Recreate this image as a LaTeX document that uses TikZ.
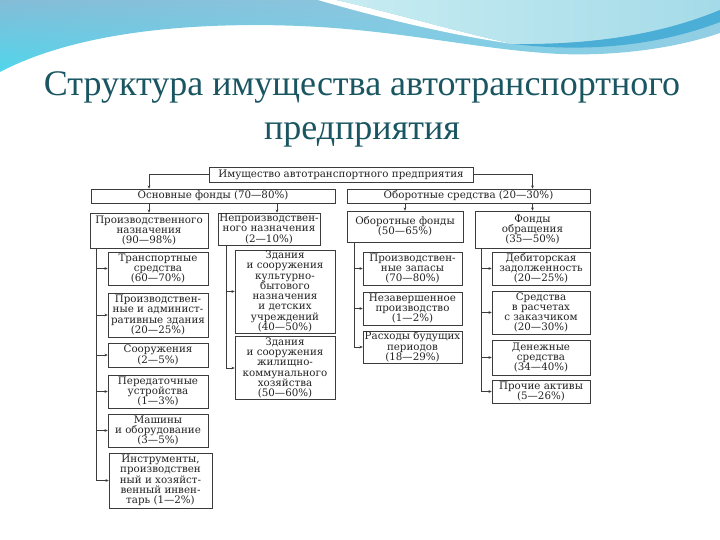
\documentclass[tikz,border=0pt]{standalone}
\usepackage{fontspec}
\setmainfont{Liberation Serif}
\newfontfamily\boxfont{DejaVu Serif}
\usetikzlibrary{arrows.meta,shadings}
\definecolor{titleteal}{RGB}{26,86,98}
\definecolor{wavesky}{RGB}{132,188,215}
\definecolor{wavepale}{RGB}{146,206,228}
\definecolor{waveaqua}{RGB}{80,214,236}
\definecolor{wavelight}{RGB}{200,236,242}
\definecolor{waveturq}{RGB}{164,219,232}
\definecolor{wavedeep}{RGB}{74,174,214}
\definecolor{boxline}{RGB}{60,60,60}
\definecolor{boxtext}{RGB}{35,35,35}
\tikzset{
  box/.style={draw=boxline,line width=0.6pt,fill=white,align=center,inner sep=1pt,
    text=boxtext,font=\boxfont\fontsize{10.3}{10.3}\selectfont},
  conn/.style={draw=boxline,line width=0.6pt,-{Stealth[length=3.2pt,width=2.8pt]}},
  headline/.style={align=center,text=titleteal,font=\fontsize{36}{44}\selectfont}
}
% name, x, y, width, height, text
\newcommand{\itembox}[6]{%
  \node[box,minimum width=#4pt,minimum height=#5pt] (#1) at (#2,#3) {#6};
}

\begin{document}
\begin{tikzpicture}[x=1pt,y=-1pt]
\useasboundingbox (0,0) rectangle (720,540);
% waves at the top
\shade[upper left=wavesky,upper right=wavepale,lower left=waveaqua,lower right=wavepale]
  (0,0) -- (720,0) -- (720,33) .. controls (670,50) and (610,56) .. (560,54)
  .. controls (480,50) and (400,30) .. (300,26)
  .. controls (200,22) and (80,30) .. (0,72) -- cycle;
\fill[white]
  (318,0) .. controls (380,18) and (450,35) .. (513,44)
  .. controls (450,30) and (390,12) .. (336,0) -- cycle;
\shade[left color=wavelight,right color=waveturq]
  (336,0) -- (720,0) -- (720,10) .. controls (660,35) and (590,45) .. (513,44)
  .. controls (450,30) and (390,12) .. (336,0) -- cycle;
\fill[wavedeep]
  (513,44) .. controls (590,45) and (660,35) .. (720,10) -- (720,22)
  .. controls (660,45) and (590,53) .. (513,44) -- cycle;

\node[headline] (title) at (362,109) {Структура имущества автотранспортного\\предприятия};

% levels 0 and 1
\itembox{top}{341}{174.5}{264}{15}{Имущество автотранспортного предприятия}
\itembox{osn}{213}{196}{244}{14}{Основные фонды (70—80\%)}
\itembox{obs}{468.5}{196}{243}{14}{Оборотные средства (20—30\%)}

% level 2
\itembox{prodn}{149}{230.5}{118}{35}{Производственного\\назначения\\(90—98\%)}
\itembox{neprod}{269}{229}{102}{32}{Непроизводствен-\\ного назначения\\(2—10\%)}
\itembox{obfond}{405}{226.5}{116}{31}{Оборотные фонды\\(50—65\%)}
\itembox{fobr}{532.5}{229.5}{115}{37}{Фонды\\обращения\\(35—50\%)}

% level 3, column 1
\itembox{transp}{158}{268.5}{100}{33}{Транспортные\\средства\\(60—70\%)}
\itembox{zdan}{158}{315}{100}{44}{Производствен-\\ные и админист-\\ративные здания\\(20—25\%)}
\itembox{soor}{158}{355}{100}{24}{Сооружения\\(2—5\%)}
\itembox{pered}{158}{391.5}{100}{33}{Передаточные\\устройства\\(1—3\%)}
\itembox{mash}{158}{430.5}{100}{33}{Машины\\и оборудование\\(3—5\%)}
\itembox{instr}{160.5}{480.5}{103}{55}{Инструменты,\\производствен\\ный и хозяйст-\\венный инвен-\\тарь (1—2\%)}

% column 2
\itembox{kult}{285}{291.5}{100}{83}{Здания\\и сооружения\\культурно-\\бытового\\назначения\\и детских\\учреждений\\(40—50\%)}
\itembox{zhil}{285}{368}{100}{60}{Здания\\и сооружения\\жилищно-\\коммунального\\хозяйства\\(50—60\%)}

% column 3
\itembox{zap}{412.5}{268.5}{99}{33}{Производствен-\\ные запасы\\(70—80\%)}
\itembox{nezav}{412.5}{308.5}{99}{33}{Незавершенное\\производство\\(1—2\%)}
\itembox{rash}{412.5}{347}{99}{32}{Расходы будущих\\периодов\\(18—29\%)}

% column 4
\itembox{debit}{541}{268.5}{98}{33}{Дебиторская\\задолженность\\(20—25\%)}
\itembox{sredr}{541}{312.5}{98}{43}{Средства\\в расчетах\\с заказчиком\\(20—30\%)}
\itembox{den}{541}{357.5}{98}{35}{Денежные\\средства\\(34—40\%)}
\itembox{proch}{541}{391.5}{98}{23}{Прочие активы\\(5—26\%)}

% connectors
\draw[conn] (top.west) -| (prodn.north |- osn.north);
\draw[conn] (top.east) -| (fobr.north |- obs.north);
\coordinate (nq) at ([xshift=8pt]neprod.north);
\draw[conn] (osn.south -| prodn.north) -- (prodn.north);
\draw[conn] (osn.south -| nq) -- (nq);
\draw[conn] (obs.south -| obfond.north) -- (obfond.north);
\draw[conn] (obs.south -| fobr.north) -- (fobr.north);

\coordinate (t1) at ([xshift=7pt]prodn.south west);
\coordinate (t2) at ([xshift=9pt]neprod.south west);
\coordinate (t3) at ([xshift=8pt]obfond.south west);
\coordinate (t4) at ([xshift=7pt]fobr.south west);
\foreach \n in {transp,zdan,soor,pered,mash,instr}
  \draw[conn] (t1) |- (\n.west);
\foreach \n in {kult,zhil}
  \draw[conn] (t2) |- (\n.west);
\foreach \n in {zap,nezav,rash}
  \draw[conn] (t3) |- (\n.west);
\foreach \n in {debit,sredr,den,proch}
  \draw[conn] (t4) |- (\n.west);
\end{tikzpicture}
\end{document}
